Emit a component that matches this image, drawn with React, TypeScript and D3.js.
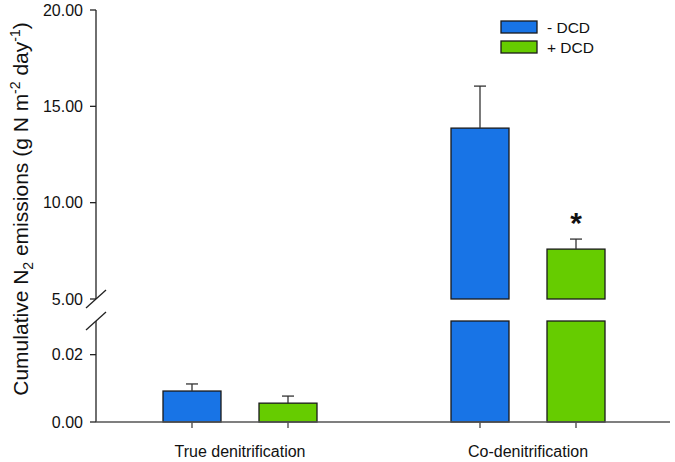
import React from "react"
import * as d3 from "d3"

const groups = ["True denitrification", "Co-denitrification"]
const series = ["- DCD", "+ DCD"]
const minusDCD = [0.0092, 13.87]
const plusDCD = [0.0056, 7.59]
const minusDCDErr = [0.0021, 2.18]
const plusDCDErr = [0.0021, 0.52]
const significant = [[false, false], [false, true]]
const upperTicks = [5, 10, 15, 20]
const lowerTicks = [0, 0.02]
const colors = ["#1874e6", "#66cc00"]

const W = 675
const H = 462
const font = "'Liberation Sans', Arial, sans-serif"

const App = () => {
  const left = 96
  const right = 670
  const upperDomain = [5, 20]
  const lowerDomain = [0, 0.03]

  const yUpper = d3.scaleLinear().domain(upperDomain).range([299, 10])
  const yLower = d3.scaleLinear().domain(lowerDomain).range([422, 321])

  const x0 = d3.scaleBand().domain(groups).range([left, left + 576])
  const x1 = d3.scalePoint().domain(series).range([0, x0.bandwidth()]).padding(1)
  const barW = 58
  const fmt = d3.format(".2f")

  const values = [minusDCD, plusDCD]
  const errs = [minusDCDErr, plusDCDErr]

  const bars: React.ReactNode[] = []
  groups.forEach((g, gi) => {
    series.forEach((s, si) => {
      const v = values[si][gi]
      const e = errs[si][gi]
      const cx = x0(g)! + x1(s)!
      const bx = cx - barW / 2
      const fill = colors[si]
      let errY0: number
      let errY1: number
      if (v <= lowerDomain[1]) {
        bars.push(
          <rect key={`l${gi}${si}`} x={bx} y={yLower(v)} width={barW}
            height={yLower(0) - yLower(v)} fill={fill} stroke="#1a1a1a" strokeWidth={1.3} />
        )
        errY0 = yLower(v)
        errY1 = yLower(v + e)
      } else {
        // broken bar: full lower segment + upper piece
        bars.push(
          <rect key={`l${gi}${si}`} x={bx} y={yLower(lowerDomain[1])} width={barW}
            height={yLower(0) - yLower(lowerDomain[1])} fill={fill} stroke="#1a1a1a" strokeWidth={1.3} />
        )
        bars.push(
          <rect key={`u${gi}${si}`} x={bx} y={yUpper(v)} width={barW}
            height={yUpper(upperDomain[0]) - yUpper(v)} fill={fill} stroke="#1a1a1a" strokeWidth={1.3} />
        )
        errY0 = yUpper(v)
        errY1 = yUpper(v + e)
      }
      bars.push(
        <g key={`e${gi}${si}`} stroke="#333" strokeWidth={1.3}>
          <line x1={cx} x2={cx} y1={errY0} y2={errY1} />
          <line x1={cx - 6} x2={cx + 6} y1={errY1} y2={errY1} />
        </g>
      )
      if (significant[gi][si]) {
        bars.push(
          <text key={`s${gi}${si}`} x={cx} y={errY1 - 6} textAnchor="middle"
            fontSize={30} fontWeight="bold" fontFamily={font} fill="#111">*</text>
        )
      }
      bars.push(
        <line key={`t${gi}${si}`} x1={cx} x2={cx} y1={422} y2={428} stroke="#444" strokeWidth={1.3} />
      )
    })
  })

  return (
    <svg width={W} height={H} style={{ position: "absolute", left: 0, top: 0, background: "#fff" }}
      fontFamily={font}>
      {/* y axis, upper part */}
      <line x1={left} x2={left} y1={yUpper(20)} y2={yUpper(5)} stroke="#222" strokeWidth={1.3} />
      {upperTicks.map((t) => (
        <g key={`ut${t}`}>
          <line x1={left - 6} x2={left} y1={yUpper(t)} y2={yUpper(t)} stroke="#222" strokeWidth={1.3} />
          <text x={left - 13} y={yUpper(t)} dy="0.36em" textAnchor="end" fontSize={16} fill="#111">
            {fmt(t)}
          </text>
        </g>
      ))}
      {/* y axis, lower part */}
      <line x1={left} x2={left} y1={yLower(lowerDomain[1])} y2={yLower(0)} stroke="#222" strokeWidth={1.3} />
      {lowerTicks.map((t) => (
        <g key={`lt${t}`}>
          <line x1={left - 6} x2={left} y1={yLower(t)} y2={yLower(t)} stroke="#222" strokeWidth={1.3} />
          <text x={left - 13} y={yLower(t)} dy="0.36em" textAnchor="end" fontSize={16} fill="#111">
            {fmt(t)}
          </text>
        </g>
      ))}
      {[yUpper(5), yLower(lowerDomain[1])].map((y, i) => (
        <line key={`b${i}`} x1={left - 10} x2={left + 10} y1={y + 9} y2={y - 9} stroke="#222" strokeWidth={1.3} />
      ))}

      {bars}

      <line x1={left} x2={right} y1={422} y2={422} stroke="#555" strokeWidth={1.5} />
      {groups.map((g) => (
        <text key={g} x={x0(g)! + x0.bandwidth() / 2} y={457} textAnchor="middle" fontSize={16} fill="#111">
          {g}
        </text>
      ))}

      <text transform="translate(28,209) rotate(-90)" textAnchor="middle" fontSize={21} fill="#111">
        Cumulative N<tspan fontSize={14} dy={5}>2</tspan>
        <tspan dy={-5}> emissions (g N m</tspan>
        <tspan fontSize={14} dy={-8}>-2</tspan>
        <tspan dy={8}> day</tspan>
        <tspan fontSize={14} dy={-8}>-1</tspan>
        <tspan dy={8}>)</tspan>
      </text>

      {series.map((s, i) => (
        <g key={s} transform={`translate(501,${21 + i * 20})`}>
          <rect width={36} height={12} fill={colors[i]} stroke="#1a1a1a" strokeWidth={1.3} />
          <text x={46} y={12} fontSize={15.5} fill="#111">{s}</text>
        </g>
      ))}
    </svg>
  )
}

export default App
